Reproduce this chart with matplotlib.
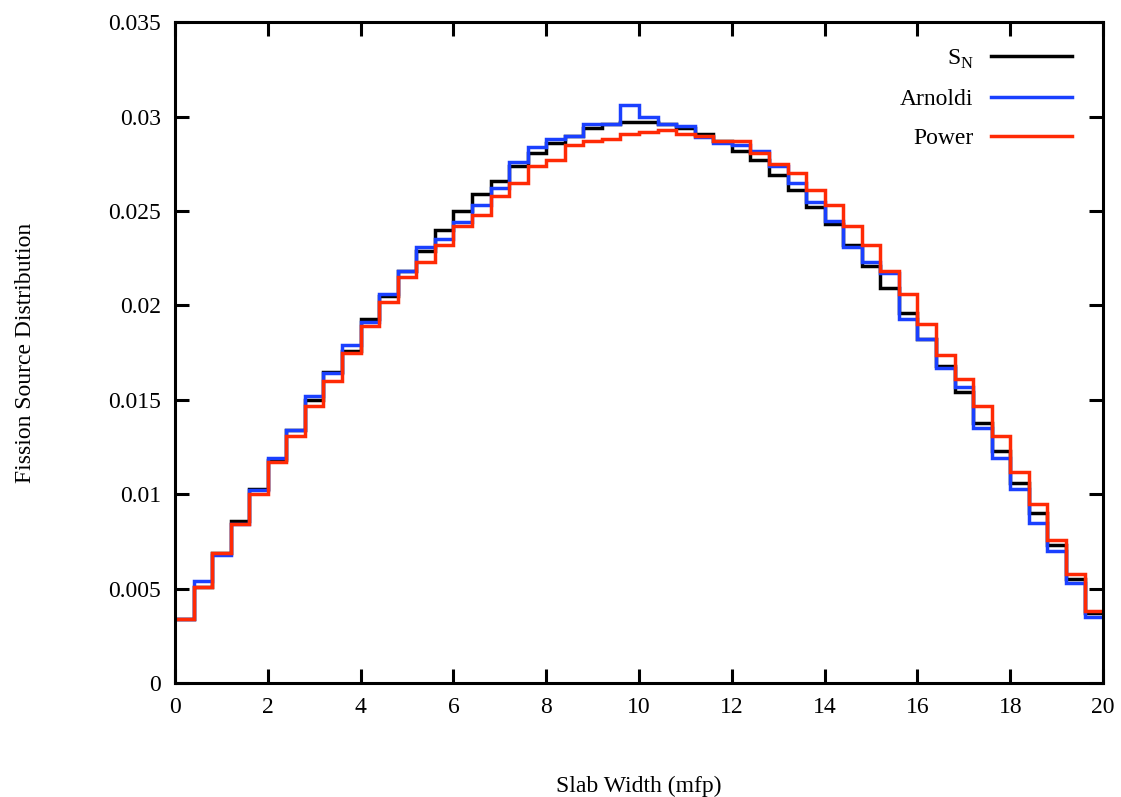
import numpy as np
import matplotlib
matplotlib.use("Agg")
import matplotlib.pyplot as plt

edges = np.linspace(0, 20, 51)

sn = [0.00337, 0.0051, 0.0069, 0.0086, 0.0103, 0.0118, 0.0134, 0.0150, 0.0165, 0.0176,
      0.0193, 0.0205, 0.0218, 0.0229, 0.0240, 0.0250, 0.0259, 0.0266, 0.0274, 0.0281,
      0.0286, 0.0290, 0.0294, 0.0296, 0.0297, 0.0297, 0.0296, 0.0294, 0.0291, 0.0287,
      0.0282, 0.0277, 0.0269, 0.0261, 0.0252, 0.0243, 0.0232, 0.0221, 0.0209, 0.0196,
      0.0182, 0.0168, 0.0154, 0.0138, 0.0123, 0.0106, 0.0090, 0.0073, 0.0055, 0.0037]

arnoldi = [0.00337, 0.0054, 0.0068, 0.0084, 0.0102, 0.0119, 0.0134, 0.0152, 0.0164, 0.0179,
           0.0191, 0.0206, 0.0218, 0.0231, 0.0235, 0.0244, 0.0253, 0.0262, 0.0276, 0.0284,
           0.0288, 0.0290, 0.0296, 0.0296, 0.0306, 0.0300, 0.0296, 0.0295, 0.0289, 0.0286,
           0.0285, 0.0282, 0.0274, 0.0265, 0.0255, 0.0245, 0.0231, 0.0223, 0.0217, 0.0193,
           0.0182, 0.0167, 0.0157, 0.0135, 0.0119, 0.0103, 0.0085, 0.0070, 0.0053, 0.0035]

power = [0.00337, 0.0051, 0.0069, 0.0084, 0.0100, 0.0117, 0.0131, 0.0147, 0.0160, 0.0175,
         0.0189, 0.0202, 0.0215, 0.0223, 0.0232, 0.0242, 0.0248, 0.0258, 0.0265, 0.0274,
         0.0277, 0.0285, 0.0287, 0.0288, 0.0291, 0.0292, 0.0293, 0.0291, 0.0290, 0.0287,
         0.0287, 0.0281, 0.0275, 0.0270, 0.0261, 0.0253, 0.0242, 0.0232, 0.0218, 0.0206,
         0.0190, 0.0174, 0.0161, 0.0147, 0.0131, 0.0112, 0.0095, 0.0076, 0.0058, 0.0038]

xticks = [0, 2, 4, 6, 8, 10, 12, 14, 16, 18, 20]
yticks = [0, 0.005, 0.01, 0.015, 0.02, 0.025, 0.03, 0.035]
ytick_labels = ["0", "0.005", "0.01", "0.015", "0.02", "0.025", "0.03", "0.035"]

plt.rcParams['font.family'] = ['Liberation Serif', 'DejaVu Serif']
plt.rcParams['mathtext.fontset'] = 'custom'
plt.rcParams['mathtext.rm'] = 'Liberation Serif'

FS = 17
fig = plt.figure(figsize=(11.21, 7.97), dpi=100)
ax = fig.add_axes([0.1561, 0.143, 0.984 - 0.1561, 0.972 - 0.143])

lw = 2.5
ax.stairs(sn, edges, color='black', linewidth=lw, label=r'S$_\mathregular{N}$', baseline=None)
ax.stairs(arnoldi, edges, color='#1a40ff', linewidth=lw, label='Arnoldi', baseline=None)
ax.stairs(power, edges, color='#ff2a05', linewidth=lw, label='Power', baseline=None)

ax.set_xlim(0, 20)
ax.set_ylim(0, 0.035)
ax.set_xticks(xticks)
ax.set_xticklabels([str(t) for t in xticks])
ax.set_yticks(yticks)
ax.set_yticklabels(ytick_labels)
ax.tick_params(direction='in', length=10, width=2.2, labelsize=FS, top=True, right=True, pad=10)
for s in ax.spines.values():
    s.set_linewidth(2.2)

ax.set_xlabel('Slab Width (mfp)', fontsize=FS, labelpad=42)
ax.set_ylabel('Fission Source Distribution', fontsize=FS, labelpad=52)

leg = ax.legend(loc='upper right', frameon=False, markerfirst=False, fontsize=FS,
                handlelength=3.4, handletextpad=0.75, labelspacing=0.75,
                bbox_to_anchor=(0.989, 0.994))
for t in leg.get_texts():
    t.set_ha('right')

fig.savefig('out.png', dpi=100)
